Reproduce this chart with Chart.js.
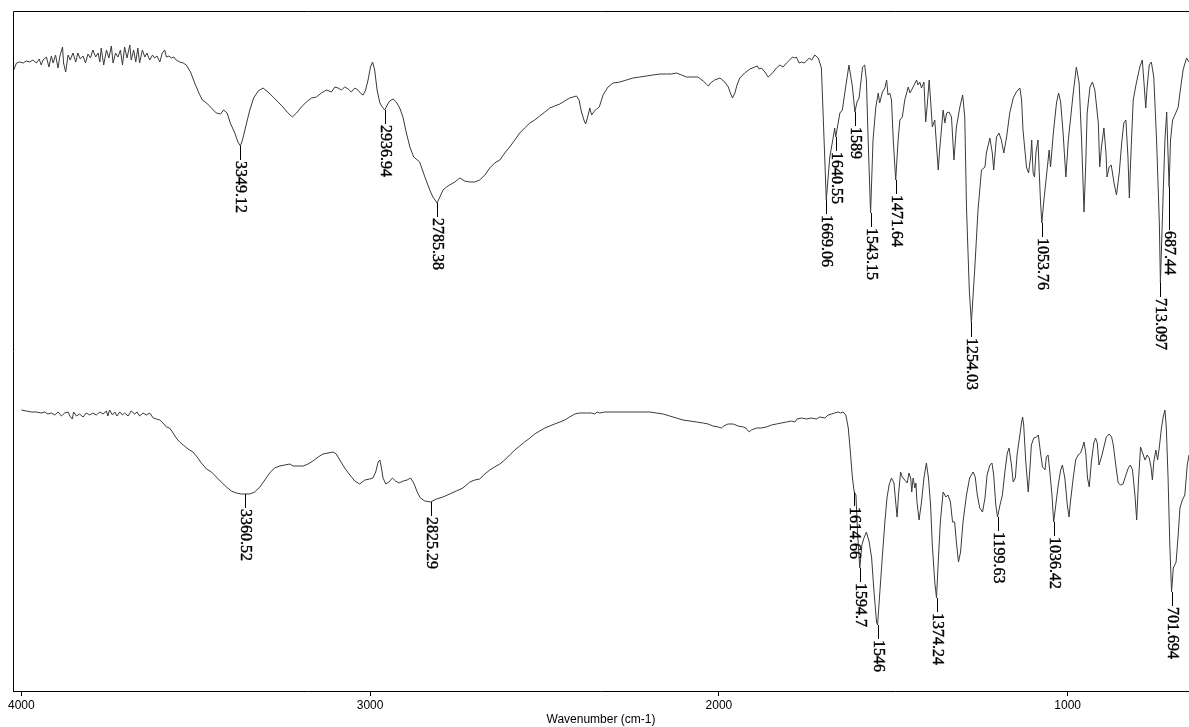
<!DOCTYPE html>
<html>
<head>
<meta charset="utf-8">
<script src="https://cdn.jsdelivr.net/npm/chart.js@4.4.1/dist/chart.umd.min.js"></script>
<style>
html,body{margin:0;padding:0;background:#fff;}
#wrap{width:1189px;height:727px;position:relative;}
</style>
</head>
<body>
<div id="wrap"><canvas id="c"></canvas></div>
<script>
// ---- axis ----
const xTicks = [4000, 3000, 2000, 1000];
const xMin = 652;
const xMax = 4024;
const axisTitle = 'Wavenumber (cm-1)';

// ---- upper spectrum (wavenumber, relative transmittance) ----
const topWn = [4022,4014,4005,3995,3986,3976,3967,3957,3949,3943,3938,3928,3921,3914,3909,3902,3895,3890,3882,3879,3873,3866,3860,3852,3844,3838,3831,3823,3816,3809,3802,3795,3787,3780,3775,3771,3764,3756,3749,3742,3737,3730,3723,3716,3710,3704,3697,3689,3685,3678,3672,3666,3661,3653,3646,3640,3632,3624,3618,3611,3603,3596,3589,3584,3577,3570,3563,3556,3546,3536,3527,3515,3503,3491,3481,3469,3455,3441,3429,3420,3410,3401,3388,3379,3372,3366,3357,3345,3334,3321,3307,3293,3278,3264,3250,3238,3223,3211,3197,3183,3168,3154,3140,3125,3111,3101,3092,3082,3073,3063,3054,3044,3035,3028,3020,3013,3006,2999,2993,2987,2980,2972,2965,2958,2951,2944,2934,2925,2915,
2906,2896,2886,2875,2858,2843,2829,2820,2808,2800,2791,2781,2772,2757,2743,2729,2714,2700,2686,2671,2657,2643,2628,2614,2600,2585,2571,2557,2542,2528,2514,2499,2485,2471,2456,2442,2428,2408,2401,2394,2387,2382,2377,2370,2365,2359,2351,2343,2332,2318,2303,2284,2265,2246,2227,2208,2189,2169,2150,2136,2122,2107,2093,2074,2060,2045,2036,2030,2024,2012,1997,1983,1973,1967,1961,1954,1948,1940,1926,1911,1897,1890,1885,1878,1868,1859,1852,1844,1835,1825,1816,1806,1797,1789,1782,1778,1770,1763,1756,1749,1741,1734,1725,
1715,1706,1692,1682,1672,1668,1665,1653,1646,1639,1627,1617,1610,1604,1598,1588,1582,1577,1572,1565,1558,1550,1543,1539,1531,1524,1519,1515,1510,1505,1500,1493,1486,1481,1474,1467,1457,1452,1443,1433,1429,1424,1419,1412,1407,1403,1397,1393,1388,1381,1371,1367,1357,1352,1347,1340,1333,1326,1319,1309,1301,1295,1290,1282,1276,1266,1257,1247,1237,1233,1223,1216,1212,1204,1197,1190,1183,1175,1166,1156,1147,1137,1132,1128,1118,1112,1106,1103,1099,1095,1091,1085,1082,1078,1074,1068,1061,1053,1049,1041,1032,1026,1020,1013,1005,998,992,984,975,967,960,953,948,944,936,929,922,912,908,903,896,890,887,881,875,867,860,852,845,839,833,827,823,820,812,803,793,786,781,776,772,766,760,753,745,737,734,726,721,716,709,705,699,690,683,678,669,659,652];
const topVal = [621,628,629,628,630,629,631,628,632,626,631,634,624,635,628,636,623,634,644,628,619,636,631,638,629,638,632,635,628,637,633,641,634,638,629,643,626,641,633,645,628,638,634,641,626,644,633,646,631,641,629,643,628,641,634,638,631,636,633,635,629,638,641,634,635,633,634,631,629,628,626,619,608,598,591,588,583,578,577,581,578,568,558,549,545,551,564,581,593,600,603,599,594,589,584,579,574,578,584,589,593,594,598,601,599,604,603,601,604,602,599,603,601,598,596,601,611,624,629,621,601,588,584,581,586,590,592,589,583,
574,558,544,534,529,514,501,494,488,494,501,504,506,509,513,510,509,509,511,516,523,528,531,538,544,551,558,563,568,571,575,579,583,585,587,590,593,595,591,579,571,567,573,583,576,579,582,584,596,604,608,609,611,613,614,615,616,617,617,617,618,616,614,614,614,610,607,605,608,611,613,609,604,598,593,598,606,613,618,622,624,625,622,623,619,614,616,619,623,626,624,628,631,634,633,634,628,629,628,630,633,631,636,
633,623,491,534,554,563,554,578,581,598,626,604,579,589,593,624,626,611,551,478,551,584,598,588,599,603,611,596,598,591,551,511,551,571,574,591,604,598,604,611,606,609,603,609,569,584,611,591,564,571,521,541,581,568,578,579,574,531,564,584,596,574,484,401,368,424,481,521,524,538,553,538,521,554,558,551,538,554,578,593,599,603,591,561,524,518,534,551,518,514,538,551,524,491,468,491,514,541,524,558,588,598,589,558,514,551,571,598,624,608,551,479,528,578,604,609,601,568,524,544,563,538,514,524,526,508,496,518,548,568,571,534,493,524,591,608,624,631,608,583,604,626,629,614,551,468,408,498,551,579,504,551,571,578,584,598,621,633,629];

// ---- lower spectrum ----
const botWn = [4000,3986,3971,3957,3943,3933,3924,3914,3904,3895,3885,3876,3866,3861,3854,3850,3842,3833,3823,3814,3804,3795,3785,3775,3766,3756,3752,3747,3739,3732,3726,3718,3710,3704,3694,3685,3675,3668,3661,3651,3642,3632,3622,3613,3603,3594,3584,3575,3565,3556,3546,3536,3522,3508,3496,3484,3469,3455,3441,3427,3412,3398,3384,3369,3360,3345,3331,3316,3302,3288,3274,3259,3245,3230,3221,3207,3192,3178,3164,3149,3135,3121,3106,3097,3087,3073,3058,3044,3030,3015,3001,2992,2984,2977,2972,2968,2963,2955,2946,2936,2927,2917,2905,2894,2884,2875,2865,2856,2843,
2826,2810,2791,2772,2753,2734,2714,2700,2686,2671,2657,2643,2628,2614,2600,2585,2571,2557,2542,2528,2514,2499,2485,2471,2456,2442,2428,2413,2399,2380,2365,2356,2349,2342,2327,2313,2294,2275,2256,2236,2217,2198,2179,2160,2141,2122,2103,2083,2064,2045,2031,2017,2002,1993,1986,1974,1959,1945,1930,1923,1913,1907,1892,1878,1864,1849,1835,1821,1806,1792,1782,1776,1763,1749,1735,1720,1711,1696,1687,1677,1668,1658,1651,1644,1636,
1629,1623,1617,1612,1607,1602,1596,1590,1584,1577,1569,1562,1556,1548,1545,1539,1531,1524,1518,1512,1505,1498,1493,1489,1485,1479,1474,1467,1460,1455,1450,1447,1443,1438,1435,1432,1426,1419,1412,1405,1399,1393,1388,1381,1376,1371,1365,1357,1349,1343,1336,1330,1324,1319,1313,1307,1300,1290,1281,1271,1265,1259,1252,1244,1237,1231,1223,1217,1212,1206,1201,1194,1187,1180,1173,1168,1161,1156,1150,1145,1137,1132,1129,1126,1120,1113,1108,1104,1097,1089,1084,1078,1072,1065,1061,1056,1051,1045,1040,1034,1027,1020,1015,1008,1001,996,992,984,977,970,963,957,953,948,943,938,932,925,920,915,910,903,896,889,881,874,869,862,855,848,841,833,826,820,814,807,802,797,791,783,778,772,766,761,757,753,747,742,737,731,726,721,717,712,707,702,697,689,683,678,671,664,657,652];
const botVal = [281,280,279,279,278,279,277,278,276,279,275,278,279,275,272,279,275,277,274,278,276,278,276,279,277,280,275,281,276,279,275,279,276,278,275,280,277,279,275,278,276,278,273,272,271,268,264,263,258,253,249,246,242,239,234,228,222,219,214,209,204,200,198,197,197,197,199,204,211,218,223,225,226,227,225,225,225,227,230,234,237,238,239,237,231,223,216,210,207,211,212,213,219,229,231,224,213,207,209,213,210,208,210,211,213,208,199,193,190,
189,192,194,197,200,203,209,211,212,217,221,224,227,231,236,241,245,249,253,257,260,263,265,267,269,271,274,277,278,278,278,277,279,278,279,279,279,279,279,279,279,279,278,277,275,273,271,270,269,268,267,265,264,263,265,267,267,265,264,263,259,261,263,263,264,266,267,268,269,270,269,272,273,272,273,272,274,273,276,277,278,279,278,279,276,
263,239,213,199,196,156,123,146,153,159,149,133,103,69,66,96,136,169,193,206,213,208,189,174,196,219,214,211,208,218,213,199,213,203,208,189,171,189,213,228,213,186,146,109,93,129,169,199,194,196,189,169,169,149,129,139,169,196,213,219,214,196,183,179,193,216,226,228,216,186,174,186,196,219,238,243,226,209,213,236,256,269,274,266,229,199,223,246,253,254,256,239,224,221,234,236,219,196,169,186,206,221,226,213,186,174,189,213,231,236,238,244,249,238,213,204,229,248,253,248,226,234,244,254,257,254,246,226,208,206,207,216,223,226,221,196,171,209,244,236,231,236,233,224,211,229,241,231,244,263,274,281,263,213,146,99,123,129,156,183,191,196,226,236];

// ---- peak annotations ----
const topPeakWn   = [3372, 2958, 2808, 1692, 1665, 1610, 1565, 1493, 1276, 1074, 734, 709];
const topPeakText = ['3349.12','2936.94','2785.38','1669.06','1640.55','1589','1543.15','1471.64','1254.03','1053.76','713.097','687.44'];
const botPeakWn   = [3360, 2826, 1612, 1596, 1545, 1376, 1201, 1040, 702];
const botPeakText = ['3360.52','2825.29','1614.66','1594.7','1546','1374.24','1199.63','1036.42','701.694'];

// styling
const leaderDefault = 14;
const leaderSpecial = {'687.44': 43};

const mk = (xs, ys) => xs.map((x, i) => ({x: x, y: ys[i]}));
const peakSets = [
  {pos: topPeakWn, text: topPeakText},
  {pos: botPeakWn, text: botPeakText}
];

const framePlugin = {
  id: 'frame',
  afterDraw(chart) {
    const a = chart.chartArea, ctx = chart.ctx;
    ctx.save();
    ctx.strokeStyle = '#000';
    ctx.lineWidth = 1;
    ctx.beginPath();
    ctx.moveTo(Math.round(a.right) + 5, Math.round(a.top) + 0.5);
    ctx.lineTo(Math.round(a.left) + 0.5, Math.round(a.top) + 0.5);
    ctx.lineTo(Math.round(a.left) + 0.5, Math.round(a.bottom) + 0.5);
    ctx.stroke();
    ctx.restore();
  }
};

const peakPlugin = {
  id: 'peaks',
  afterDatasetsDraw(chart) {
    const ctx = chart.ctx, xs = chart.scales.x, ys = chart.scales.y;
    ctx.save();
    ctx.strokeStyle = '#000';
    ctx.fillStyle = '#000';
    ctx.lineWidth = 1;
    ctx.font = '16px "Liberation Serif", "Times New Roman", serif';
    chart.data.datasets.forEach((ds, di) => {
      const set = peakSets[di];
      set.pos.forEach((p, i) => {
        let best = ds.data[0];
        ds.data.forEach(d => { if (Math.abs(d.x - p) < Math.abs(best.x - p)) best = d; });
        const px = Math.round(xs.getPixelForValue(p)) + 0.5;
        const py = ys.getPixelForValue(best.y);
        const lead = leaderSpecial[set.text[i]] || leaderDefault;
        ctx.lineWidth = 1;
        ctx.beginPath();
        ctx.moveTo(px, py);
        ctx.lineTo(px, py + lead);
        ctx.stroke();
        ctx.save();
        ctx.translate(px, py + lead + 1);
        ctx.rotate(Math.PI / 2);
        ctx.textAlign = 'left';
        ctx.textBaseline = 'middle';
        ctx.fillText(set.text[i], 0, 0);
        ctx.lineWidth = 0.4;
        ctx.strokeText(set.text[i], 0, 0);
        ctx.restore();
      });
    });
    ctx.restore();
  }
};

new Chart(document.getElementById('c'), {
  type: 'line',
  data: {
    datasets: [
      {data: mk(topWn, topVal), borderColor: '#3a3a3a', borderWidth: 1, pointRadius: 0, tension: 0, fill: false},
      {data: mk(botWn, botVal), borderColor: '#3a3a3a', borderWidth: 1, pointRadius: 0, tension: 0, fill: false}
    ]
  },
  options: {
    responsive: true,
    maintainAspectRatio: false,
    animation: false,
    devicePixelRatio: 1,
    layout: {padding: {left: 13, top: 11, right: 0, bottom: 0}},
    plugins: {legend: {display: false}, tooltip: {enabled: false}},
    scales: {
      x: {
        type: 'linear',
        reverse: true,
        min: xMin,
        max: xMax,
        afterBuildTicks: s => { s.ticks = xTicks.map(v => ({value: v})); },
        afterFit: s => { s.height = 36; },
        grid: {drawOnChartArea: false, drawTicks: true, tickLength: 5, color: '#000', tickColor: '#000'},
        border: {display: true, color: '#000', width: 1},
        ticks: {color: '#000', padding: 2, maxRotation: 0, autoSkip: false,
                font: {family: '"Liberation Sans", Arial, sans-serif', size: 12},
                callback: v => String(v)},
        title: {display: true, text: axisTitle, color: '#000', padding: {top: 0, bottom: 0},
                font: {family: '"Liberation Sans", Arial, sans-serif', size: 12}}
      },
      y: {
        type: 'linear',
        display: false,
        min: 0,
        max: 680
      }
    }
  },
  plugins: [framePlugin, peakPlugin]
});
</script>
</body>
</html>
